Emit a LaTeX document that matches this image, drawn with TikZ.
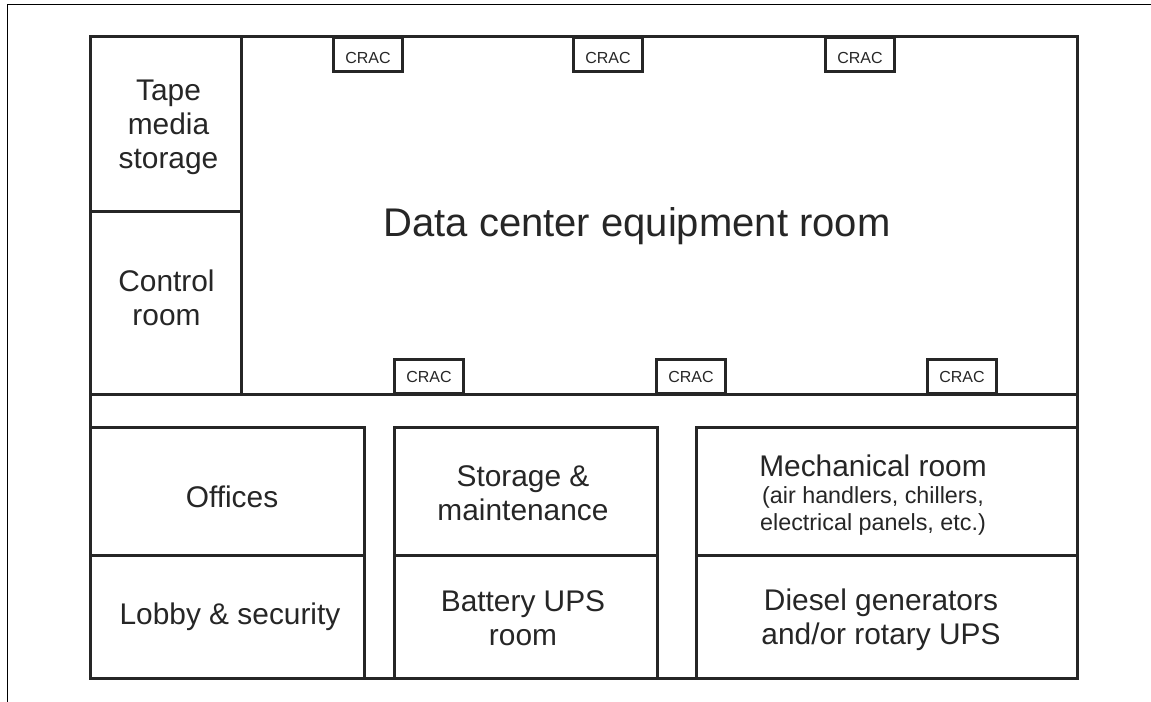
\documentclass[tikz,border=0pt]{standalone}
\usepackage{fontspec}
\setmainfont{Liberation Sans}
\tikzset{
  wall/.style={line width=2.25pt, draw=black!85},
  room/.style={align=center, text=black!85, font=\fontsize{22.4}{25.6}\selectfont},
  cracbox/.style={wall, fill=white, minimum width=52pt, minimum height=26pt, inner sep=0pt, text=black!85, font=\fontsize{12}{14}\selectfont},
  cractop/.style={cracbox, text height=13pt},
  small/.style={font=\fontsize{17.5}{20}\selectfont},
}
\begin{document}
% 1 px = 0.75 pt, y running down from the top of the page
\begin{tikzpicture}[x=0.75pt, y=-0.75pt]
  \useasboundingbox (0, 0) rectangle (1151, 702);
  \fill[white] (0, 0) rectangle (1151, 702);

  % sheet edge
  \draw[black, line width=0.75pt] (7, 702)--(7, 5)--(1151, 5);

  % top row of CRAC units
  \node[cractop] (cracA) at (368, 54.5) {CRAC};
  \node[cractop] (cracB) at (608, 54.5) {CRAC};
  \node[cractop] (cracC) at (860, 54.5) {CRAC};
  % bottom row
  \node[cracbox] (cracD) at (429, 376.5) {CRAC};
  \node[cracbox] (cracE) at (691, 376.5) {CRAC};
  \node[cracbox] (cracF) at (962, 376.5) {CRAC};

  % equipment room
  \draw[wall] (90, 37) rectangle (1077, 394);
  \draw[wall] (241, 37)--(241, 394);
  \draw[wall] (90, 212)--(241, 212);

  % bottom rooms
  \draw[wall] (90, 394)--(90, 678)--(1077, 678)--(1077, 394);
  \draw[wall] (90, 427)--(364, 427)--(364, 678);
  \draw[wall] (394, 678)--(394, 427)--(657, 427)--(657, 678);
  \draw[wall] (696, 678)--(696, 427)--(1077, 427);
  \draw[wall] (90, 555)--(364, 555);
  \draw[wall] (394, 555)--(657, 555);
  \draw[wall] (696, 555)--(1077, 555);

  \node[room] (tape) at (168.5, 127) {Tape\\media\\storage};
  \node[room] (control) at (166.5, 298) {Control\\room};
  \node[room, font=\fontsize{30}{34}\selectfont] (equipment) at (637, 226) {Data center equipment room};
  \node[room] (offices) at (232, 497) {Offices};
  \node[room] (lobby) at (230, 617) {Lobby \& security};
  \node[room] (storage) at (523, 493) {Storage \&\\maintenance};
  \node[room] (battery) at (523, 618) {Battery UPS\\room};
  \node[room] (mechanical) at (873, 466) {Mechanical room};
  \node[room, small] (mechnote) at (873, 511) {(air handlers, chillers,\\electrical panels, etc.)};
  \node[room] (diesel) at (881, 620) {Diesel generators\\and/or rotary UPS};
\end{tikzpicture}
\end{document}
